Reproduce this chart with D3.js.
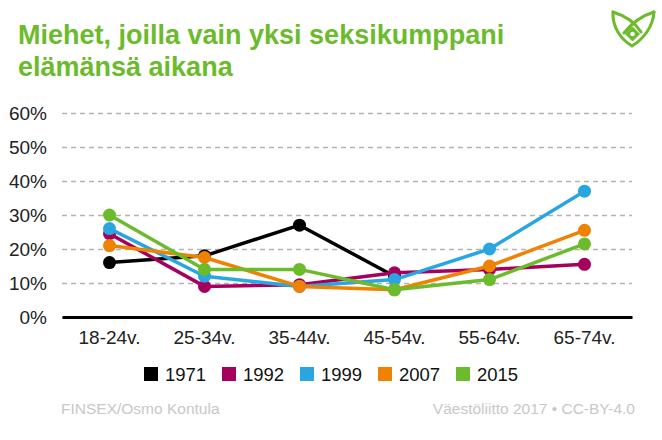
<!DOCTYPE html>
<html>
<head>
<meta charset="utf-8">
<script src="https://cdn.jsdelivr.net/npm/d3@7"></script>
<style>
  html, body { margin: 0; padding: 0; background: #fff; }
  svg { display: block; font-family: "Liberation Sans", Arial, sans-serif; }
</style>
</head>
<body>
<svg id="chart" width="662" height="440"></svg>
<script>
// ---- data ----
const titleLines = ["Miehet, joilla vain yksi seksikumppani", "elämänsä aikana"];
const categories = ["18-24v.", "25-34v.", "35-44v.", "45-54v.", "55-64v.", "65-74v."];
const seriesNames = ["1971", "1992", "1999", "2007", "2015"];
const v1971 = [16, 18, 27, 12, null, null];
const v1992 = [24.5, 9, 9.5, 13, 14, 15.5];
const v1999 = [26, 12, 9, 11, 20, 37];
const v2007 = [21, 17.5, 9, 8, 15, 25.5];
const v2015 = [30, 14, 14, 8, 11, 21.5];
const yTicks = [0, 10, 20, 30, 40, 50, 60];
const seriesColors = ["#000000", "#a6005e", "#29a6e1", "#ef8200", "#6bbb2c"];
const sourceLeft = "FINSEX/Osmo Kontula";
const sourceRight = "Väestöliitto 2017 • CC-BY-4.0";

const seriesValues = [v1971, v1992, v1999, v2007, v2015];

// ---- layout ----
const svg = d3.select("#chart");
const plotLeft = 62, plotRight = 632, plotTop = 113, plotBottom = 317;

const x = d3.scaleBand().domain(categories).range([plotLeft, plotRight]);
const y = d3.scaleLinear().domain([0, 60]).range([plotBottom, plotTop]);

// title
const titleG = svg.append("g");
titleLines.forEach((t, i) => {
  titleG.append("text")
    .attr("x", 18).attr("y", 44 + i * 31.5)
    .attr("fill", "#6bbb2c")
    .attr("font-size", 27).attr("font-weight", "bold")
    .text(t);
});

// logo
const logo = svg.append("g").attr("fill", "none").attr("stroke", "#6bbb2c")
  .attr("stroke-width", 3).attr("stroke-linejoin", "round").attr("stroke-linecap", "round");
logo.append("path").attr("d", "M613,12 C612,28 622,40 632,46 C642,40 653,28 654,12");
logo.append("path").attr("d", "M613,12 C626,16 636,24 641,32");
logo.append("path").attr("d", "M654,12 C641,16 631,24 624,33");
logo.append("path").attr("fill", "#6bbb2c").attr("stroke-width", 1)
  .attr("d", "M632.5,27 L639.5,34 L632.5,41 L625.5,34 Z");
svg.append("circle").attr("cx", 632.5).attr("cy", 34).attr("r", 2.3).attr("fill", "#fff");

// y axis with gridlines
const yAxis = d3.axisLeft(y).tickValues(yTicks)
  .tickFormat(d => d + "%")
  .tickSizeInner(-(plotRight - plotLeft)).tickSizeOuter(0).tickPadding(15);
const yg = svg.append("g").attr("transform", `translate(${plotLeft},0)`).call(yAxis);
yg.select(".domain").remove();
yg.selectAll(".tick line")
  .attr("stroke", "#b3b3b3").attr("stroke-width", 1.5)
  .attr("stroke-dasharray", "5,4");
yg.selectAll(".tick text")
  .attr("font-size", 19).attr("fill", "#222")
  .attr("font-family", "Liberation Sans, Arial, sans-serif");

// x axis
const xAxis = d3.axisBottom(x).tickSize(0).tickPadding(14);
const xg = svg.append("g").attr("transform", `translate(0,${plotBottom})`).call(xAxis);
xg.select(".domain").attr("stroke", "#000").attr("stroke-width", 3);
xg.selectAll(".tick text")
  .attr("font-size", 19).attr("fill", "#222")
  .attr("font-family", "Liberation Sans, Arial, sans-serif");

// series
const line = d3.line()
  .defined(d => d.v !== null)
  .x(d => x(d.c) + x.bandwidth() / 2)
  .y(d => y(d.v));

seriesNames.forEach((name, si) => {
  const pts = categories.map((c, i) => ({ c, v: seriesValues[si][i] }));
  const g = svg.append("g");
  g.append("path").datum(pts)
    .attr("d", line)
    .attr("fill", "none")
    .attr("stroke", seriesColors[si])
    .attr("stroke-width", 3.5)
    .attr("stroke-linejoin", "round");
  g.selectAll("circle").data(pts.filter(d => d.v !== null)).join("circle")
    .attr("cx", d => x(d.c) + x.bandwidth() / 2)
    .attr("cy", d => y(d.v))
    .attr("r", 6.5)
    .attr("fill", seriesColors[si]);
});

// legend
const legX0 = 144, legStep = 78, legY = 367;
const leg = svg.append("g");
seriesNames.forEach((name, i) => {
  const gx = legX0 + i * legStep;
  leg.append("rect").attr("x", gx).attr("y", legY).attr("width", 14).attr("height", 14)
    .attr("fill", seriesColors[i]);
  leg.append("text").attr("x", gx + 21).attr("y", legY + 14)
    .attr("font-size", 18.5).attr("fill", "#111").text(name);
});

// footer
svg.append("text").attr("x", 61).attr("y", 414)
  .attr("font-size", 15.5).attr("fill", "#c8c8c8").text(sourceLeft);
svg.append("text").attr("x", 635).attr("y", 414).attr("text-anchor", "end")
  .attr("font-size", 15.5).attr("fill", "#c8c8c8").text(sourceRight);
</script>
</body>
</html>
